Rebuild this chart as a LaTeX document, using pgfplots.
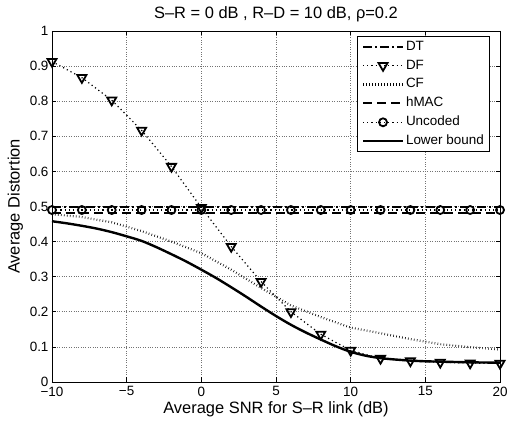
\documentclass[border=0pt]{standalone}
\usepackage{fontspec}
\setmainfont{Liberation Sans}
\usepackage{pgfplots}
\pgfplotsset{compat=1.18}

\begin{document}
\begin{tikzpicture}
\path[use as bounding box] (-52bp,-42bp) rectangle (456bp,382bp);
\begin{axis}[
    at={(0bp,0bp)}, anchor=south west,
    scale only axis,
    width=448bp, height=351bp,
    xmin=-10, xmax=20, ymin=0, ymax=1,
    xtick={-10,-5,0,5,10,15,20},
    xticklabels={−10,−5,0,5,10,15,20},
    ytick={0,0.1,0.2,0.3,0.4,0.5,0.6,0.7,0.8,0.9,1},
    yticklabels={0,0.1,0.2,0.3,0.4,0.5,0.6,0.7,0.8,0.9,1},
    tick label style={font=\fontsize{13.5}{16}\selectfont},
    xticklabel style={yshift=-3.5bp, inner ysep=1bp},
    yticklabel style={inner ysep=1bp},
    label style={font=\fontsize{16.5}{19}\selectfont},
    xlabel style={yshift=-1bp},
    title style={font=\fontsize{16.5}{19}\selectfont},
    xlabel={Average SNR for S–R link (dB)},
    ylabel={Average Distortion},
    title={S–R = 0 dB , R–D = 10 dB, ρ=0.2},
    grid=major,
    grid style={dotted, black!55, line width=0.6bp},
    axis line style={line width=0.8bp},
    major tick length=4.5bp,
    tick style={black, line width=0.6bp},
    legend cell align=left,
    legend image code/.code={\draw[mark repeat=2,mark phase=2,#1] plot coordinates {(0bp,0bp) (20bp,0bp) (40bp,0bp)};},
    legend style={at={(1,1)}, anchor=north east, xshift=-10bp, yshift=-5bp,
        draw=black, line width=0.8bp, font=\fontsize{13.5}{16}\selectfont,
        row sep=2.3bp, inner xsep=4bp, inner ysep=2bp,
        nodes={inner sep=1.8bp, text height=10bp, text depth=3bp}},
]

% DT
\addplot[black, line width=2bp, dash pattern=on 9bp off 3bp on 2bp off 3bp]
    coordinates {(-10,0.499)(20,0.499)};
\addlegendentry{DT}

% DF
\addplot[black, line width=1.2bp, dash pattern=on 1.2bp off 3bp,
    mark=triangle, mark size=5.2bp,
    mark options={solid, rotate=180, line width=1.8bp, fill=white}]
    coordinates {
    (-10,0.913)(-8,0.867)(-6,0.803)(-4,0.717)(-2,0.614)(0,0.497)
    (2,0.386)(4,0.286)(6,0.200)(8,0.136)(10,0.090)(12,0.067)
    (14,0.060)(16,0.056)(18,0.054)(20,0.053)
    };
\addlegendentry{DF}

% CF
\addplot[black, line width=2.2bp, dash pattern=on 0.6bp off 2.4bp]
    coordinates {
    (-10,0.478)(-8,0.470)(-6,0.455)(-4,0.430)(-2,0.400)(0,0.367)
    (2,0.320)(4,0.268)(6,0.218)(8,0.185)(10,0.155)(12,0.139)
    (14,0.122)(16,0.108)(18,0.099)(20,0.093)
    };
\addlegendentry{CF}

% hMAC
\addplot[black, line width=2bp, dash pattern=on 9bp off 5bp]
    coordinates {(-10,0.482)(20,0.482)};
\addlegendentry{hMAC}

% Uncoded
\addplot[black, line width=1.2bp, dash pattern=on 1.2bp off 3bp,
    mark=o, mark size=4bp, mark options={solid, line width=1.8bp}]
    coordinates {
    (-10,0.49)(-8,0.49)(-6,0.49)(-4,0.49)(-2,0.49)(0,0.49)
    (2,0.49)(4,0.49)(6,0.49)(8,0.49)(10,0.49)(12,0.49)
    (14,0.49)(16,0.49)(18,0.49)(20,0.49)
    };
\addlegendentry{Uncoded}

% Lower bound
\addplot[black, line width=2.4bp, smooth]
    coordinates {
    (-10,0.458)(-9,0.452)(-8,0.445)(-7,0.437)(-6,0.427)(-5,0.415)
    (-4,0.402)(-3,0.384)(-2,0.364)(-1,0.343)(0,0.320)(1,0.296)
    (2,0.270)(3,0.243)(4,0.215)(5,0.188)(6,0.163)(7,0.141)
    (8,0.121)(9,0.102)(10,0.086)(11,0.075)(12,0.068)(13,0.064)
    (14,0.061)(15,0.059)(16,0.058)(17,0.057)(18,0.056)(19,0.0555)(20,0.055)
    };
\addlegendentry{Lower bound}

\end{axis}
\end{tikzpicture}
\end{document}
